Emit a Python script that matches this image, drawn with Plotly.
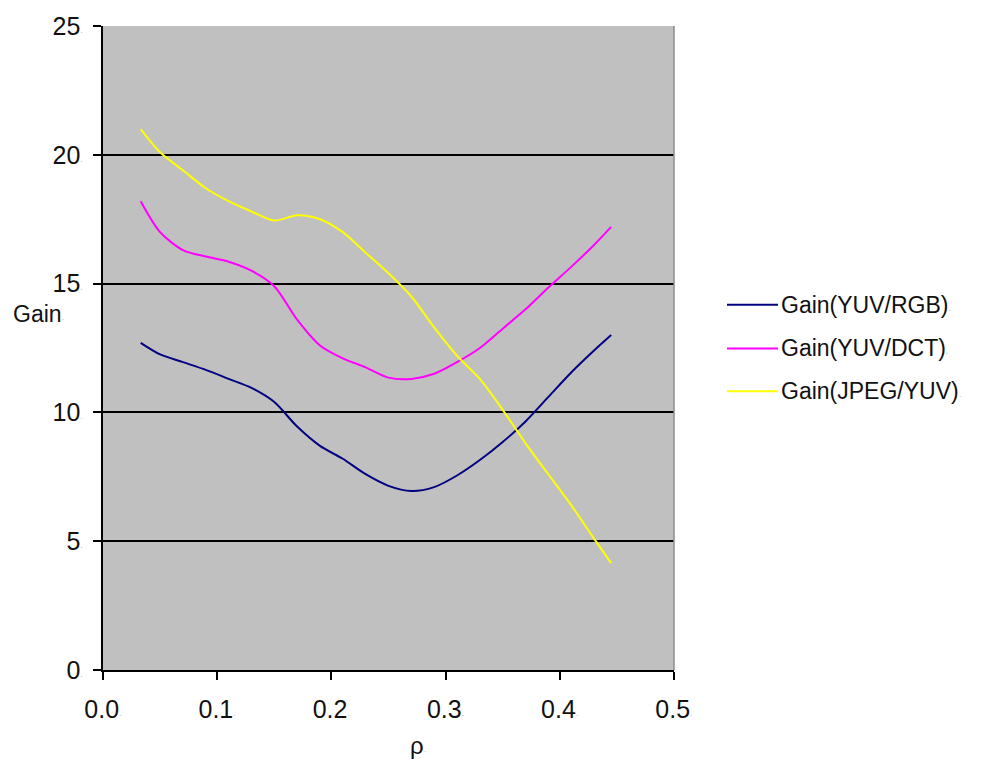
import plotly.graph_objects as go

# rho values at which the three gain curves were sampled
rho = [0.033, 0.05, 0.07, 0.09, 0.11, 0.13, 0.15, 0.17, 0.19, 0.21, 0.23,
       0.25, 0.27, 0.29, 0.31, 0.33, 0.35, 0.37, 0.39, 0.41, 0.43, 0.445]

gain_yuv_rgb = [12.7, 12.25, 11.95, 11.65, 11.3, 10.95, 10.4, 9.45, 8.7, 8.2, 7.6,
                7.15, 6.95, 7.1, 7.55, 8.15, 8.85, 9.65, 10.6, 11.55, 12.4, 13.0]
gain_yuv_dct = [18.2, 17.0, 16.3, 16.05, 15.85, 15.5, 14.9, 13.6, 12.6, 12.1, 11.75,
                11.35, 11.3, 11.5, 11.95, 12.5, 13.25, 14.0, 14.85, 15.65, 16.5, 17.2]
gain_jpeg_yuv = [21.0, 20.1, 19.4, 18.7, 18.2, 17.8, 17.45, 17.65, 17.5, 17.0, 16.2,
                 15.4, 14.5, 13.3, 12.2, 11.3, 10.1, 8.8, 7.6, 6.4, 5.1, 4.15]

series_names = ["Gain(YUV/RGB)", "Gain(YUV/DCT)", "Gain(JPEG/YUV)"]
series_values = [gain_yuv_rgb, gain_yuv_dct, gain_jpeg_yuv]
series_colors = ["#000080", "#FF00FF", "#FFFF00"]

x_ticks = [0.0, 0.1, 0.2, 0.3, 0.4, 0.5]
x_tick_labels = ["0.0", "0.1", "0.2", "0.3", "0.4", "0.5"]
y_ticks = [0, 5, 10, 15, 20, 25]
y_tick_labels = ["0", "5", "10", "15", "20", "25"]

FONT = "Arial, Liberation Sans, sans-serif"
MARK = "<span style='font-size:8px;color:#9a9a9a'>·</span>"

W, H = 987, 770
ML, MR, MT, MB = 103, 313, 23, 100
PW, PH = W - ML - MR, H - MT - MB


def px_to_paper(px, py):
    """Convert page pixel position to paper coordinates."""
    return (px - ML) / PW, (H - MB - py) / PH


fig = go.Figure()
for name, vals, col in zip(series_names, series_values, series_colors):
    fig.add_trace(go.Scatter(
        x=rho, y=vals, name=name, mode="lines",
        line=dict(color=col, width=2, shape="spline", smoothing=0.8),
        hoverinfo="skip", showlegend=False,
    ))

fig.update_layout(
    width=W, height=H,
    margin=dict(l=ML, r=MR, t=MT, b=MB),
    paper_bgcolor="white",
    plot_bgcolor="#C0C0C0",
    font=dict(family=FONT, size=25, color="#111111"),
    showlegend=False,
    xaxis=dict(
        range=[0, 0.5], tickvals=x_ticks,
        ticktext=[t + MARK for t in x_tick_labels],
        tickfont=dict(size=25),
        showgrid=False, zeroline=False,
        showline=True, linecolor="black", linewidth=2,
        ticks="outside", ticklen=8, tickwidth=2, tickcolor="black",
        ticklabelstandoff=8,
    ),
    yaxis=dict(
        range=[0, 25], tickvals=y_ticks,
        ticktext=[t + MARK for t in y_tick_labels],
        tickfont=dict(size=25),
        showgrid=True, gridcolor="black", gridwidth=2,
        zeroline=False,
        showline=True, linecolor="black", linewidth=2,
        ticks="outside", ticklen=8, tickwidth=2, tickcolor="black",
        ticklabelstandoff=5,
    ),
)

# faint right-hand border of the plot area
fig.add_shape(type="line", xref="paper", yref="paper", x0=1, x1=1, y0=0, y1=1,
              line=dict(color="#8c8c8c", width=1.5))

# legend: short line sample followed by the series name
legend_rows = [303, 347, 390]
for name, col, ry in zip(series_names, series_colors, legend_rows):
    x0, y0 = px_to_paper(727, ry)
    x1, _ = px_to_paper(778, ry)
    fig.add_shape(type="line", xref="paper", yref="paper",
                  x0=x0, x1=x1, y0=y0, y1=y0, line=dict(color=col, width=2))
    tx, _ = px_to_paper(779, ry)
    fig.add_annotation(text=name + MARK, xref="paper", yref="paper",
                       x=tx, y=y0, xanchor="left", yanchor="middle",
                       showarrow=False, font=dict(size=23, family=FONT))

# axis titles
gx, gy = px_to_paper(11, 312)
fig.add_annotation(text="Gain" + MARK, xref="paper", yref="paper",
                   x=gx, y=gy, xanchor="left", yanchor="middle",
                   showarrow=False, font=dict(size=23, family=FONT))
rx, ry = px_to_paper(418, 746)
fig.add_annotation(text="ρ" + MARK, xref="paper", yref="paper",
                   x=rx, y=ry, xanchor="center", yanchor="middle",
                   showarrow=False, font=dict(size=24, family=FONT))

fig.write_html("out.html")
